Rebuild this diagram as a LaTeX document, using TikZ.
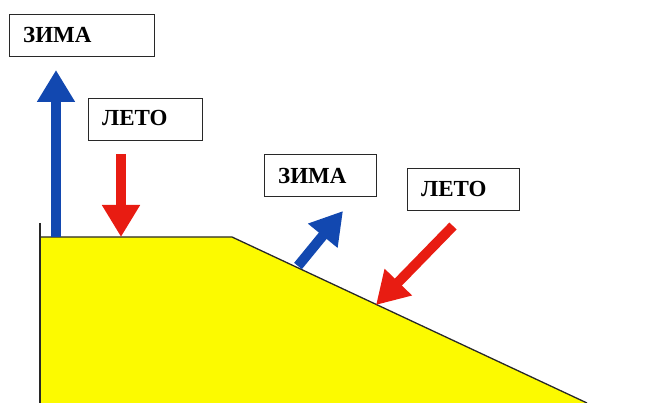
\documentclass[tikz,border=0pt]{standalone}
\usepackage{fontspec}
\setmainfont{Liberation Serif}
\usetikzlibrary{arrows.meta}
\definecolor{hill}{RGB}{252,250,0}
\definecolor{coldblue}{RGB}{18,72,176}
\definecolor{warmred}{RGB}{232,28,18}
\definecolor{edge}{RGB}{40,40,40}
\tikzset{
  label box/.style={draw=edge, line width=1.1pt, fill=white, minimum width=#1,
    minimum height=42pt, inner sep=0pt, anchor=north west},
  label text/.style={font=\bfseries\fontsize{23}{23}\selectfont, anchor=west, inner sep=0pt},
  ray/.style={line width=10pt, -{Triangle[width=36pt,length=32pt]}},
}
\begin{document}
\begin{tikzpicture}[x=1pt,y=-1pt]
  \useasboundingbox (0,0) rectangle (672,403);
  % ground profile: flat top, then a slope
  \fill[hill] (40,237) -- (232,237) -- (587,403) -- (40,403) -- cycle;
  \draw[edge, line width=1.3pt] (40,223) -- (40,403);
  \draw[edge, line width=1.3pt] (40,237) -- (232,237) -- (587,403);

  % labels
  \node[label box=145pt] (w1) at (9,14) {};
  \node[label text] (w1t) at (23,35) {ЗИМА};
  \node[label box=114pt] (s1) at (88,98) {};
  \node[label text] (s1t) at (102,118) {ЛЕТО};
  \node[label box=112pt] (w2) at (264,154) {};
  \node[label text] (w2t) at (278,176) {ЗИМА};
  \node[label box=112pt] (s2) at (407,168) {};
  \node[label text] (s2t) at (421,189) {ЛЕТО};

  % arrow end points
  \coordinate (a1) at (56,237);  \coordinate (b1) at (56,70);
  \coordinate (a2) at (121,154); \coordinate (b2) at (121,237);
  \coordinate (a3) at (298,266); \coordinate (b3) at (343,211);
  \coordinate (a4) at (453,226); \coordinate (b4) at (376,305);

  \draw[ray, coldblue] (a1) -- (b1);
  \draw[ray, warmred] (a2) -- (b2);
  \draw[ray, coldblue] (a3) -- (b3);
  \draw[ray, warmred] (a4) -- (b4);
\end{tikzpicture}
\end{document}
